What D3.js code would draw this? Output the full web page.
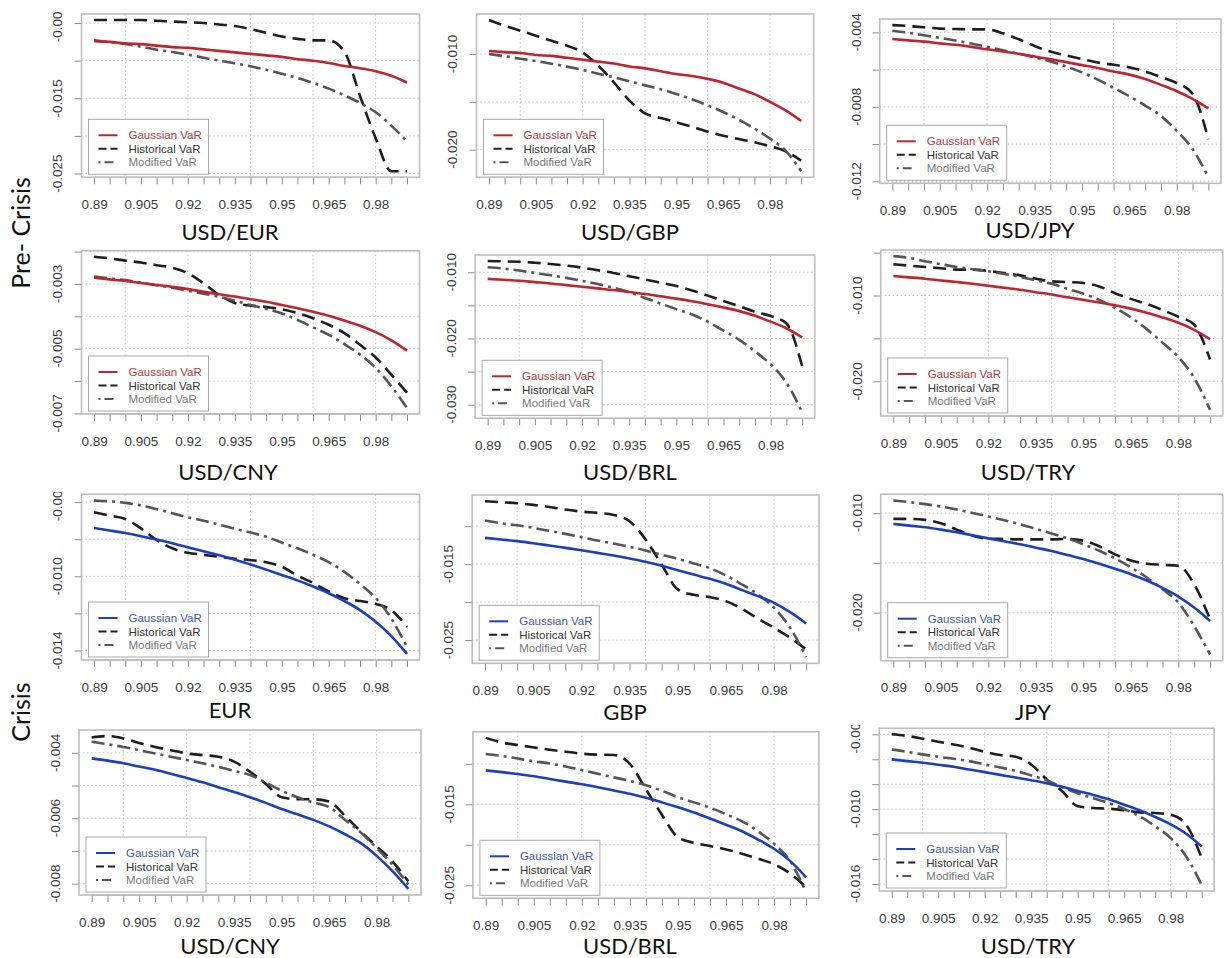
<!DOCTYPE html>
<html>
<head>
<meta charset="utf-8">
<script src="https://cdn.jsdelivr.net/npm/d3@7"></script>
<style>
  body { margin: 0; background: #fff; }
  svg { display: block; }
</style>
</head>
<body>
<svg id="chart"></svg>
<script>
// confidence levels on the x axis
var levels = [0.89, 0.895, 0.90, 0.905, 0.91, 0.915, 0.92, 0.925, 0.93, 0.935, 0.94,
              0.945, 0.95, 0.955, 0.96, 0.965, 0.97, 0.975, 0.98, 0.985, 0.99];
var xTicks = levels;
var xTickLabels = [0.89, 0.905, 0.92, 0.935, 0.95, 0.965, 0.98];
var xGrid = [0.90, 0.92, 0.94, 0.96, 0.98];

var titles = ["USD/EUR", "USD/GBP", "USD/JPY", "USD/CNY", "USD/BRL", "USD/TRY",
              "EUR", "GBP", "JPY", "USD/CNY", "USD/BRL", "USD/TRY"];
var periods = ["pre", "pre", "pre", "pre", "pre", "pre", "crisis", "crisis", "crisis", "crisis", "crisis", "crisis"];
var seriesNames = ["Gaussian VaR", "Historical VaR", "Modified VaR"];

// ---- pre-crisis ----
var eurPreGauss = [-0.0074,-0.0075,-0.0077,-0.0078,-0.0080,-0.0082,-0.0083,-0.0085,-0.0087,-0.0089,-0.0091,-0.0093,-0.0095,-0.0098,-0.0100,-0.0103,-0.0107,-0.0110,-0.0114,-0.0120,-0.0129];
var eurPreHist  = [-0.0046,-0.0046,-0.0046,-0.0046,-0.0047,-0.0048,-0.0049,-0.0050,-0.0052,-0.0054,-0.0058,-0.0063,-0.0068,-0.0071,-0.0073,-0.0073,-0.0088,-0.0147,-0.0203,-0.0247,-0.0247];
var eurPreMod   = [-0.0073,-0.00752,-0.00779,-0.00814,-0.00854,-0.00885,-0.0092,-0.0096,-0.0100,-0.01035,-0.01075,-0.0112,-0.01173,-0.0123,-0.01297,-0.01372,-0.0146,-0.01562,-0.01686,-0.01863,-0.02071];

var gbpPreGauss = [-0.00969,-0.0098,-0.0099,-0.0101,-0.0102,-0.0104,-0.0106,-0.0108,-0.0110,-0.0113,-0.0115,-0.0118,-0.0121,-0.0123,-0.0126,-0.0130,-0.0136,-0.0142,-0.0150,-0.0159,-0.0170];
var gbpPreHist  = [-0.00645,-0.00704,-0.00756,-0.00808,-0.00861,-0.00913,-0.00983,-0.01122,-0.01296,-0.01488,-0.0162,-0.01669,-0.01714,-0.0176,-0.01812,-0.01854,-0.01889,-0.01923,-0.01965,-0.02017,-0.02115];
var gbpPreMod   = [-0.0100,-0.01024,-0.01049,-0.01073,-0.01101,-0.01132,-0.01167,-0.01206,-0.01244,-0.01286,-0.01328,-0.01369,-0.01418,-0.01474,-0.01537,-0.01606,-0.01686,-0.0178,-0.01885,-0.0201,-0.02226];

var jpyPreGauss = [-0.00436,-0.00443,-0.0045,-0.00459,-0.00467,-0.00478,-0.00491,-0.00503,-0.00515,-0.0053,-0.00544,-0.0056,-0.00576,-0.00592,-0.0061,-0.00627,-0.0065,-0.00682,-0.00716,-0.00757,-0.00809];
var jpyPreHist  = [-0.00361,-0.00366,-0.00373,-0.0038,-0.00382,-0.00384,-0.00384,-0.00405,-0.00437,-0.00473,-0.00503,-0.00524,-0.00544,-0.00562,-0.00574,-0.00588,-0.0061,-0.0064,-0.00672,-0.00729,-0.00974];
var jpyPreMod   = [-0.00391,-0.00402,-0.00416,-0.0043,-0.00444,-0.0046,-0.00478,-0.00496,-0.00515,-0.00535,-0.00556,-0.00583,-0.00615,-0.00654,-0.00698,-0.00743,-0.00793,-0.00849,-0.00929,-0.01027,-0.01178];

var cnyPreGauss = [-0.00281,-0.00286,-0.00291,-0.00297,-0.00303,-0.00309,-0.00316,-0.00324,-0.00332,-0.00339,-0.00347,-0.00355,-0.00365,-0.00375,-0.00386,-0.00398,-0.00413,-0.00429,-0.00449,-0.00474,-0.00506];
var cnyPreHist  = [-0.00216,-0.00221,-0.00228,-0.00234,-0.00242,-0.0025,-0.00267,-0.00298,-0.00334,-0.00359,-0.00367,-0.00371,-0.00378,-0.0039,-0.00406,-0.00426,-0.00452,-0.00488,-0.00527,-0.0058,-0.00636];
var cnyPreMod   = [-0.00277,-0.00283,-0.00288,-0.00296,-0.00304,-0.00312,-0.00321,-0.0033,-0.0034,-0.00352,-0.00365,-0.00377,-0.00391,-0.00411,-0.00434,-0.00457,-0.00486,-0.00518,-0.00559,-0.00616,-0.00683];

var brlPreGauss = [-0.0110,-0.01114,-0.01129,-0.01149,-0.01169,-0.01194,-0.01219,-0.01244,-0.01269,-0.01299,-0.01328,-0.01363,-0.01398,-0.01438,-0.01483,-0.01532,-0.01587,-0.01657,-0.01746,-0.01846,-0.01985];
var brlPreHist  = [-0.00831,-0.00836,-0.00841,-0.00856,-0.00876,-0.009,-0.0093,-0.0097,-0.0101,-0.0106,-0.01109,-0.01159,-0.01209,-0.01274,-0.01353,-0.01433,-0.01512,-0.01597,-0.01662,-0.01771,-0.02418];
var brlPreMod   = [-0.00925,-0.00945,-0.00975,-0.0101,-0.01045,-0.01085,-0.01129,-0.01179,-0.01234,-0.01303,-0.01388,-0.01473,-0.01557,-0.01637,-0.01746,-0.01881,-0.0202,-0.02194,-0.02393,-0.02667,-0.03114];

var tryPreGauss = [-0.00773,-0.00788,-0.00804,-0.00824,-0.00843,-0.00863,-0.00886,-0.0091,-0.00933,-0.00961,-0.00988,-0.0102,-0.01051,-0.01082,-0.01114,-0.01153,-0.012,-0.01255,-0.01318,-0.014,-0.0151];
var tryPreHist  = [-0.00635,-0.00651,-0.00667,-0.00682,-0.00698,-0.00698,-0.00714,-0.00737,-0.00765,-0.00804,-0.00835,-0.00843,-0.00855,-0.00894,-0.00973,-0.01039,-0.01098,-0.01169,-0.01247,-0.01341,-0.01745];
var tryPreMod   = [-0.00541,-0.00561,-0.006,-0.00635,-0.00667,-0.00694,-0.00718,-0.00749,-0.00784,-0.00824,-0.00863,-0.00922,-0.0098,-0.01051,-0.01145,-0.01255,-0.01392,-0.01549,-0.01718,-0.01961,-0.02333];

// ---- crisis ----
var eurCriGauss = [-0.0074,-0.00753,-0.00767,-0.00784,-0.00802,-0.00822,-0.00844,-0.00865,-0.00887,-0.00911,-0.00936,-0.00964,-0.00993,-0.01022,-0.01055,-0.01091,-0.01133,-0.01182,-0.01245,-0.01322,-0.01418];
var eurCriHist  = [-0.00655,-0.00673,-0.00691,-0.00742,-0.00804,-0.00849,-0.00873,-0.00884,-0.00895,-0.00905,-0.00913,-0.00924,-0.00949,-0.00996,-0.01036,-0.01082,-0.01118,-0.01133,-0.01149,-0.01182,-0.01273];
var eurCriMod   = [-0.00591,-0.00596,-0.00604,-0.00618,-0.00638,-0.0066,-0.00682,-0.007,-0.00722,-0.00744,-0.00764,-0.00787,-0.00818,-0.00849,-0.00884,-0.00924,-0.00976,-0.01042,-0.01118,-0.01227,-0.01382];

var gbpCriGauss = [-0.01154,-0.01175,-0.01197,-0.01224,-0.01254,-0.01285,-0.01316,-0.01351,-0.01386,-0.01425,-0.01469,-0.01522,-0.01579,-0.01636,-0.01693,-0.01759,-0.01842,-0.01921,-0.02009,-0.02132,-0.02281];
var gbpCriHist  = [-0.00671,-0.00684,-0.00697,-0.00719,-0.00746,-0.00781,-0.00807,-0.00825,-0.00851,-0.00934,-0.01175,-0.01504,-0.01833,-0.01904,-0.01934,-0.01987,-0.02088,-0.02219,-0.02338,-0.02469,-0.02623];
var gbpCriMod   = [-0.00925,-0.00961,-0.00987,-0.01022,-0.01061,-0.01101,-0.01145,-0.01189,-0.01228,-0.01272,-0.0132,-0.01377,-0.0143,-0.01491,-0.01553,-0.01649,-0.01768,-0.01899,-0.02075,-0.02338,-0.02724];

var jpyCriGauss = [-0.01108,-0.01125,-0.01141,-0.01165,-0.01192,-0.01222,-0.01253,-0.01283,-0.01313,-0.01347,-0.0138,-0.01421,-0.01461,-0.01508,-0.01559,-0.01613,-0.01677,-0.01751,-0.01838,-0.01949,-0.02084];
var jpyCriHist  = [-0.01057,-0.01057,-0.01067,-0.01101,-0.01165,-0.01226,-0.01256,-0.01259,-0.01263,-0.01263,-0.01263,-0.01259,-0.01276,-0.01333,-0.01414,-0.01475,-0.01508,-0.01519,-0.01529,-0.01714,-0.02067];
var jpyCriMod   = [-0.00872,-0.00889,-0.00909,-0.00933,-0.00963,-0.00997,-0.01034,-0.01071,-0.01111,-0.01158,-0.01205,-0.01253,-0.01313,-0.01377,-0.01455,-0.01545,-0.01646,-0.01764,-0.01899,-0.02135,-0.02421];

var cnyCriGauss = [-0.00417,-0.00424,-0.00432,-0.00442,-0.00452,-0.00464,-0.00477,-0.0049,-0.00505,-0.0052,-0.00536,-0.00553,-0.00572,-0.00588,-0.00605,-0.00625,-0.00649,-0.00676,-0.00715,-0.00762,-0.00816];
var cnyCriHist  = [-0.00353,-0.00349,-0.00356,-0.0037,-0.00382,-0.00392,-0.00402,-0.00407,-0.00412,-0.00427,-0.00458,-0.00495,-0.00536,-0.00542,-0.00542,-0.00549,-0.00593,-0.00641,-0.00686,-0.00732,-0.00793];
var cnyCriMod   = [-0.00366,-0.00374,-0.00382,-0.00392,-0.00402,-0.00412,-0.00422,-0.00432,-0.00443,-0.00455,-0.00468,-0.00491,-0.00516,-0.00536,-0.00552,-0.00566,-0.00605,-0.00644,-0.00691,-0.00742,-0.00803];

var brlCriGauss = [-0.01081,-0.01102,-0.01126,-0.01154,-0.01187,-0.0122,-0.01252,-0.01289,-0.01329,-0.0137,-0.01419,-0.01476,-0.01537,-0.01602,-0.01675,-0.01752,-0.01833,-0.01935,-0.02049,-0.02199,-0.02402];
var brlCriHist  = [-0.00679,-0.00736,-0.00768,-0.00797,-0.00825,-0.0085,-0.00874,-0.00886,-0.0089,-0.01,-0.01313,-0.0163,-0.01907,-0.01976,-0.02016,-0.02057,-0.0211,-0.02171,-0.0224,-0.02354,-0.02524];
var brlCriMod   = [-0.00878,-0.00902,-0.00935,-0.00967,-0.00996,-0.01033,-0.01077,-0.01122,-0.01167,-0.01211,-0.01264,-0.01333,-0.01411,-0.01476,-0.01541,-0.01622,-0.01711,-0.01833,-0.01988,-0.02199,-0.02585];

var tryCriGauss = [-0.00601,-0.00615,-0.00628,-0.00644,-0.0066,-0.00682,-0.00703,-0.00725,-0.00746,-0.00768,-0.00792,-0.00821,-0.00854,-0.00886,-0.00921,-0.00964,-0.01009,-0.01063,-0.01122,-0.01197,-0.01299];
var tryCriHist  = [-0.004,-0.00413,-0.00435,-0.00459,-0.00481,-0.00507,-0.0054,-0.00566,-0.0058,-0.00642,-0.00762,-0.00856,-0.00977,-0.00991,-0.00996,-0.01009,-0.01026,-0.01031,-0.01044,-0.01125,-0.01393];
var tryCriMod   = [-0.00521,-0.0054,-0.00561,-0.0058,-0.00596,-0.00615,-0.00642,-0.00666,-0.00693,-0.0073,-0.00768,-0.00824,-0.00872,-0.00913,-0.0095,-0.00999,-0.01058,-0.01138,-0.01232,-0.0138,-0.01608];

// y ticks (all) and the ones that carry a label
var yTicks = [
  [-0.005,-0.010,-0.015,-0.020,-0.025],
  [-0.010,-0.015,-0.020],
  [-0.004,-0.006,-0.008,-0.010,-0.012],
  [-0.002,-0.003,-0.004,-0.005,-0.006,-0.007],
  [-0.010,-0.015,-0.020,-0.025,-0.030],
  [-0.005,-0.010,-0.015,-0.020],
  [-0.006,-0.008,-0.010,-0.012,-0.014],
  [-0.010,-0.015,-0.020,-0.025],
  [-0.010,-0.015,-0.020],
  [-0.004,-0.005,-0.006,-0.007,-0.008],
  [-0.010,-0.015,-0.020,-0.025],
  [-0.004,-0.006,-0.008,-0.010,-0.012,-0.014,-0.016]
];
var yTickLabels = [
  [-0.005,-0.015,-0.025],
  [-0.010,-0.020],
  [-0.004,-0.008,-0.012],
  [-0.003,-0.005,-0.007],
  [-0.010,-0.020,-0.030],
  [-0.010,-0.020],
  [-0.006,-0.010,-0.014],
  [-0.015,-0.025],
  [-0.010,-0.020],
  [-0.004,-0.006,-0.008],
  [-0.015,-0.025],
  [-0.004,-0.010,-0.016]
];

var gaussSeries = [eurPreGauss, gbpPreGauss, jpyPreGauss, cnyPreGauss, brlPreGauss, tryPreGauss,
                   eurCriGauss, gbpCriGauss, jpyCriGauss, cnyCriGauss, brlCriGauss, tryCriGauss];
var histSeries  = [eurPreHist, gbpPreHist, jpyPreHist, cnyPreHist, brlPreHist, tryPreHist,
                   eurCriHist, gbpCriHist, jpyCriHist, cnyCriHist, brlCriHist, tryCriHist];
var modSeries   = [eurPreMod, gbpPreMod, jpyPreMod, cnyPreMod, brlPreMod, tryPreMod,
                   eurCriMod, gbpCriMod, jpyCriMod, cnyCriMod, brlCriMod, tryCriMod];

// layout: plot box of each panel [left, top, right, bottom], title centre, crop line
var boxes = [
  [81.5, 14, 419.5, 177.3], [476.5, 14, 813.7, 177.3], [879.7, 19, 1221, 183.3],
  [81.5, 250.7, 419.5, 414], [475.1, 255, 814.7, 418.3], [880.7, 250, 1222.7, 416],
  [81.5, 494.3, 419.5, 660], [472.2, 495, 819, 663.3], [880.7, 494.3, 1222.7, 660.7],
  [79, 730, 421, 895], [472.9, 731.7, 818.9, 898.3], [879.3, 728.3, 1214.1, 891]
];
var titlePos = [[230, 232], [630, 232], [1030, 230], [228, 472], [630, 472], [1028, 472],
                [230, 710], [625, 712], [1033, 712], [230, 946], [630, 946], [1028, 946]];
var cropTop = [12, null, null, null, null, null, 492, null, null, null, null, 725];

var W = 1227, H = 958;
var colors = {
  pre: "#c0242c", crisis: "#1a3fbf",
  preText: "#b5343a", crisisText: "#3a55b0",
  hist: "#1e1e1e", mod: "#555555"
};

var svg = d3.select("#chart").attr("width", W).attr("height", H);
var defs = svg.append("defs");

function pad(ext) {
  var r = ext[1] - ext[0];
  return [ext[0] - 0.04 * r, ext[1] + 0.04 * r];
}

titles.forEach(function (title, i) {
  var b = boxes[i];
  var g = svg.append("g");
  if (cropTop[i] !== null) {
    defs.append("clipPath").attr("id", "crop" + i)
      .append("rect").attr("x", b[0] - 100).attr("y", cropTop[i])
      .attr("width", b[2] - b[0] + 120).attr("height", 300);
    g.attr("clip-path", "url(#crop" + i + ")");
  }

  var x = d3.scaleLinear().domain(pad([levels[0], levels[levels.length - 1]])).range([b[0], b[2]]);
  var all = gaussSeries[i].concat(histSeries[i], modSeries[i]);
  var y = d3.scaleLinear().domain(pad(d3.extent(all))).range([b[3], b[1]]);

  // grid
  g.selectAll(".vg").data(xGrid).enter().append("line")
    .attr("x1", function (d) { return x(d); }).attr("x2", function (d) { return x(d); })
    .attr("y1", b[1]).attr("y2", b[3])
    .attr("stroke", "#c4c4c4").attr("stroke-width", 1).attr("stroke-dasharray", "1.5,2.5");
  g.selectAll(".hg").data(yTicks[i]).enter().append("line")
    .attr("x1", b[0]).attr("x2", b[2])
    .attr("y1", function (d) { return y(d); }).attr("y2", function (d) { return y(d); })
    .attr("stroke", "#c4c4c4").attr("stroke-width", 1).attr("stroke-dasharray", "1.5,2.5");

  // x axis
  var xa = g.append("g").attr("transform", "translate(0," + b[3] + ")")
    .call(d3.axisBottom(x).tickValues(xTicks).tickSize(7).tickSizeOuter(0).tickPadding(15)
      .tickFormat(function (d) {
        return xTickLabels.some(function (v) { return Math.abs(v - d) < 1e-9; }) ? String(+d.toFixed(3)) : "";
      }));
  xa.select(".domain").remove();
  xa.append("line").attr("x1", x(levels[0])).attr("x2", x(levels[levels.length - 1]))
    .attr("stroke", "#8a8a8a");
  xa.selectAll(".tick line").attr("stroke", "#8a8a8a");
  xa.selectAll(".tick text").attr("fill", "#3a3a3a")
    .style("font-family", "'Liberation Sans', Arial, sans-serif").style("font-size", "13.5px");

  // y axis
  var ya = g.append("g").attr("transform", "translate(" + b[0] + ",0)")
    .call(d3.axisLeft(y).tickValues(yTicks[i]).tickSize(7).tickSizeOuter(0).tickFormat(""));
  ya.select(".domain").remove();
  ya.selectAll(".tick line").attr("stroke", "#8a8a8a");
  g.selectAll(".yl").data(yTickLabels[i]).enter().append("text")
    .attr("transform", function (d) { return "translate(" + (b[0] - 24) + "," + y(d) + ") rotate(-90)"; })
    .attr("text-anchor", "middle").attr("dy", "0.36em")
    .attr("fill", "#3a3a3a")
    .style("font-family", "'Liberation Sans', Arial, sans-serif").style("font-size", "13.5px")
    .text(function (d) { return d.toFixed(3); });

  // curves
  var line = d3.line()
    .x(function (d, k) { return x(levels[k]); })
    .y(function (d) { return y(d); })
    .curve(d3.curveMonotoneX);
  var gColor = periods[i] === "pre" ? colors.pre : colors.crisis;
  g.append("path").datum(histSeries[i]).attr("d", line)
    .attr("fill", "none").attr("stroke", colors.hist).attr("stroke-width", 2.6)
    .attr("stroke-dasharray", "13,7");
  g.append("path").datum(modSeries[i]).attr("d", line)
    .attr("fill", "none").attr("stroke", colors.mod).attr("stroke-width", 2.6)
    .attr("stroke-dasharray", "13,5,3,5");
  g.append("path").datum(gaussSeries[i]).attr("d", line)
    .attr("fill", "none").attr("stroke", gColor).attr("stroke-width", 2.6);

  // legend
  var lx = b[0] + 7, lw = 120, lh = 55, ly = b[3] - 3 - lh;
  var lg = g.append("g").attr("transform", "translate(" + lx + "," + ly + ")");
  lg.append("rect").attr("width", lw).attr("height", lh)
    .attr("fill", "#fff").attr("stroke", "#a8a8a8").attr("stroke-width", 1);
  var legStroke = [gColor, colors.hist, colors.mod];
  var legDash = [null, "8,4", "2,4,9,4"];
  var legText = [periods[i] === "pre" ? colors.preText : colors.crisisText, "#333", "#777"];
  seriesNames.forEach(function (name, k) {
    var ry = 16 + k * 13.5;
    lg.append("line").attr("x1", 10).attr("x2", 29).attr("y1", ry).attr("y2", ry)
      .attr("stroke", legStroke[k]).attr("stroke-width", 2)
      .attr("stroke-dasharray", legDash[k]);
    lg.append("text").attr("x", 40).attr("y", ry).attr("dy", "0.35em")
      .attr("fill", legText[k])
      .style("font-family", "'Liberation Sans', Arial, sans-serif").style("font-size", "11.5px")
      .text(name);
  });

  // plot box
  g.append("rect").attr("x", b[0]).attr("y", b[1])
    .attr("width", b[2] - b[0]).attr("height", b[3] - b[1])
    .attr("fill", "none").attr("stroke", "#bdbdbd").attr("stroke-width", 1.6);

  // panel title
  svg.append("text").attr("x", titlePos[i][0]).attr("y", titlePos[i][1])
    .attr("text-anchor", "middle").attr("dy", "0.36em")
    .style("font-family", "Lato, 'Open Sans', sans-serif").style("font-size", "22px")
    .attr("fill", "#111").text(title);
});

// row group labels
[["Pre- Crisis", 233], ["Crisis", 712]].forEach(function (r) {
  svg.append("text")
    .attr("transform", "translate(21," + r[1] + ") rotate(-90)")
    .attr("text-anchor", "middle").attr("dy", "0.36em")
    .style("font-family", "Lato, 'Open Sans', sans-serif").style("font-size", "25px")
    .attr("fill", "#111").text(r[0]);
});
</script>
</body>
</html>
